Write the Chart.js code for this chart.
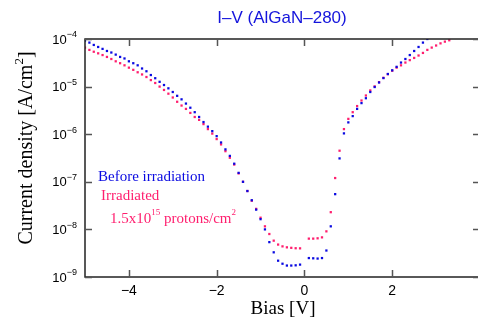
<!DOCTYPE html>
<html>
<head>
<meta charset="utf-8">
<script src="https://cdn.jsdelivr.net/npm/chart.js@4"></script>
<style>
  html, body { margin: 0; padding: 0; background: #fff; overflow: hidden; }
  canvas { display: block; }
</style>
</head>
<body>
<canvas id="myChart" width="484" height="320"></canvas>
<script>
// bias steps (V), 0.1 V apart
var bias = [-5.0,-4.9,-4.8,-4.7,-4.6,-4.5,-4.4,-4.3,-4.2,-4.1,
            -4.0,-3.9,-3.8,-3.7,-3.6,-3.5,-3.4,-3.3,-3.2,-3.1,
            -3.0,-2.9,-2.8,-2.7,-2.6,-2.5,-2.4,-2.3,-2.2,-2.1,
            -2.0,-1.9,-1.8,-1.7,-1.6,-1.5,-1.4,-1.3,-1.2,-1.1,
            -1.0,-0.9,-0.8,-0.7,-0.6,-0.5,-0.4,-0.3,-0.2,-0.1,
             0.0, 0.1, 0.2, 0.3, 0.4, 0.5, 0.6, 0.7, 0.8, 0.9,
             1.0, 1.1, 1.2, 1.3, 1.4, 1.5, 1.6, 1.7, 1.8, 1.9,
             2.0, 2.1, 2.2, 2.3, 2.4, 2.5, 2.6, 2.7, 2.8, 2.9,
             3.0, 3.1, 3.2, 3.3];

// current density (A/cm2), before irradiation
var before = [9.2e-5,8.4e-5,7.5e-5,6.8e-5,6.2e-5,5.6e-5,5.2e-5,4.7e-5,4.2e-5,3.9e-5,
              3.4e-5,3.1e-5,2.8e-5,2.4e-5,2.1e-5,1.75e-5,1.5e-5,1.26e-5,1.08e-5,9.2e-6,
              7.7e-6,6.4e-6,5.4e-6,4.4e-6,3.6e-6,2.9e-6,2.3e-6,1.8e-6,1.44e-6,1.16e-6,
              9.1e-7,6.7e-7,4.8e-7,3.5e-7,2.4e-7,1.54e-7,1.0e-7,6.4e-8,4.1e-8,2.6e-8,
              1.64e-8,1.0e-8,5.4e-9,3.3e-9,2.2e-9,1.9e-9,1.74e-9,1.74e-9,1.76e-9,1.82e-9,
              null,2.5e-9,2.47e-9,2.44e-9,2.5e-9,3.6e-9,1.16e-8,5.5e-8,3.1e-7,1.04e-6,
              1.77e-6,2.4e-6,3.4e-6,4.5e-6,5.7e-6,7.7e-6,9.8e-6,1.22e-5,1.51e-5,1.84e-5,
              2.2e-5,2.6e-5,3.2e-5,3.8e-5,4.6e-5,5.6e-5,6.8e-5,8.4e-5,1.0e-4];

// current density (A/cm2), irradiated 1.5x10^15 protons/cm2
var irradiated = [6.6e-5,5.9e-5,5.4e-5,5.0e-5,4.6e-5,4.2e-5,3.8e-5,3.4e-5,3.1e-5,2.8e-5,
                  2.5e-5,2.25e-5,2.0e-5,1.8e-5,1.59e-5,1.37e-5,1.19e-5,1.0e-5,8.5e-6,7.1e-6,
                  5.9e-6,4.8e-6,4.0e-6,3.4e-6,2.8e-6,2.3e-6,2.0e-6,1.63e-6,1.28e-6,1.03e-6,
                  7.9e-7,6.1e-7,4.4e-7,3.2e-7,2.3e-7,1.5e-7,1.0e-7,6.4e-8,4.0e-8,2.7e-8,
                  1.76e-8,1.16e-8,8.0e-9,5.8e-9,4.8e-9,4.4e-9,4.2e-9,4.1e-9,4.02e-9,4.0e-9,
                  null,6.4e-9,6.4e-9,6.5e-9,6.8e-9,9.1e-9,2.3e-8,1.2e-7,4.5e-7,1.28e-6,
                  2.1e-6,2.9e-6,3.9e-6,5.1e-6,6.5e-6,8.3e-6,1.01e-5,1.24e-5,1.53e-5,1.82e-5,
                  2.15e-5,2.5e-5,2.8e-5,3.2e-5,3.6e-5,4.0e-5,4.5e-5,5.1e-5,5.9e-5,6.6e-5,
                  7.3e-5,8.1e-5,8.8e-5,9.4e-5];

var xTicks = [-4, -2, 0, 2];
var yTicks = [1e-9, 1e-8, 1e-7, 1e-6, 1e-5, 1e-4];
var yExps = ['-9', '-8', '-7', '-6', '-5', '-4'];

var blue = 'rgb(10,10,225)';
var pink = 'rgb(255,30,110)';

function puntos(vals){
    var out = [];
    for(var i=0;i<vals.length;i++){
        out.push({x: bias[i], y: vals[i]});
    }
    return out;
}

// marco, ticks hacia dentro y textos
var marco = {
    id: 'marco',
    afterDraw: function(chart){
        var ctx = chart.ctx;
        var a = chart.chartArea;
        var sx = chart.scales.x;
        var sy = chart.scales.y;
        ctx.save();
        ctx.strokeStyle = '#222';
        ctx.lineWidth = 1.5;
        ctx.strokeRect(a.left, a.top, a.right - a.left, a.bottom - a.top);

        ctx.lineWidth = 1.5;
        ctx.strokeStyle = '#555';
        ctx.beginPath();
        for(var i=0;i<xTicks.length;i++){
            var px = Math.round(sx.getPixelForValue(xTicks[i])) + 0.5;
            ctx.moveTo(px, a.bottom); ctx.lineTo(px, a.bottom - 7);
            ctx.moveTo(px, a.top); ctx.lineTo(px, a.top + 7);
        }
        for(var j=0;j<yTicks.length;j++){
            var py = Math.round(sy.getPixelForValue(yTicks[j])) + 0.5;
            ctx.moveTo(a.left, py); ctx.lineTo(a.left + 7, py);
            ctx.moveTo(a.right, py); ctx.lineTo(a.right - 7, py);
        }
        ctx.stroke();

        // etiquetas eje x
        ctx.fillStyle = '#000';
        ctx.font = '14px "Liberation Sans", Arial, sans-serif';
        ctx.textAlign = 'center';
        ctx.textBaseline = 'middle';
        for(var i=0;i<xTicks.length;i++){
            var t = xTicks[i] < 0 ? '\u2212' + Math.abs(xTicks[i]) : String(xTicks[i]);
            ctx.fillText(t, sx.getPixelForValue(xTicks[i]), a.bottom + 14);
        }

        // etiquetas eje y (10 con exponente)
        for(var j=0;j<yTicks.length;j++){
            var py = sy.getPixelForValue(yTicks[j]);
            ctx.textAlign = 'right';
            ctx.font = '9px "Liberation Sans", Arial, sans-serif';
            var ew = ctx.measureText('\u2212' + yExps[j].slice(1)).width;
            ctx.fillText('\u2212' + yExps[j].slice(1), 77, py - 4);
            ctx.font = '13px "Liberation Sans", Arial, sans-serif';
            ctx.fillText('10', 77 - ew, py + 1);
        }

        // titulo
        ctx.fillStyle = 'rgb(20,20,220)';
        ctx.font = '17px "Liberation Sans", Arial, sans-serif';
        ctx.textAlign = 'center';
        ctx.fillText('I\u2013V (AlGaN\u2013280)', 282, 18);

        // titulos de ejes
        ctx.fillStyle = '#000';
        ctx.font = '19px "Liberation Serif", "Times New Roman", serif';
        ctx.fillText('Bias [V]', 283, 309);
        ctx.save();
        ctx.translate(27, 148);
        ctx.rotate(-Math.PI / 2);
        ctx.textAlign = 'left';
        ctx.font = '20px "Liberation Serif", serif';
        var t1 = 'Current density [A/cm';
        var w1 = ctx.measureText(t1).width;
        ctx.font = '13px "Liberation Serif", serif';
        var w2 = ctx.measureText('2').width;
        ctx.font = '20px "Liberation Serif", serif';
        var w3 = ctx.measureText(']').width;
        var x0 = -(w1 + w2 + w3) / 2;
        ctx.fillText(t1, x0, 0);
        ctx.font = '13px "Liberation Serif", serif';
        ctx.fillText('2', x0 + w1, -7);
        ctx.font = '20px "Liberation Serif", serif';
        ctx.fillText(']', x0 + w1 + w2, 0);
        ctx.restore();

        // leyenda como texto
        ctx.textAlign = 'left';
        ctx.font = '15px "Liberation Serif", serif';
        ctx.fillStyle = blue;
        ctx.fillText('Before irradiation', 98, 177);
        ctx.fillStyle = pink;
        ctx.fillText('Irradiated', 101, 196);
        var lx = 110, ly = 219;
        var partes = [['1.5x10', 15, 0], ['15', 9, -6], [' protons/cm', 15, 0], ['2', 9, -6]];
        for(var k=0;k<partes.length;k++){
            ctx.font = partes[k][1] + 'px "Liberation Serif", serif';
            ctx.fillText(partes[k][0], lx, ly + partes[k][2]);
            lx += ctx.measureText(partes[k][0]).width;
        }
        ctx.restore();
    }
};

var ctx = document.getElementById('myChart').getContext('2d');
var myChart = new Chart(ctx, {
    type: 'scatter',
    data: {
        datasets: [{
            label: 'Before irradiation',
            data: puntos(before),
            backgroundColor: blue,
            borderWidth: 0,
            pointStyle: 'rect',
            pointRadius: 1.6
        }, {
            label: 'Irradiated 1.5x10^15 protons/cm2',
            data: puntos(irradiated),
            backgroundColor: pink,
            borderWidth: 0,
            pointStyle: 'rect',
            pointRadius: 1.6
        }]
    },
    options: {
        responsive: false,
        animation: false,
        layout: { padding: { left: 85, top: 39, right: 4, bottom: 43 } },
        plugins: { legend: { display: false }, tooltip: { enabled: false } },
        scales: {
            x: { type: 'linear', min: -5, max: 4, display: false },
            y: { type: 'logarithmic', min: 1e-9, max: 1e-4, display: false }
        }
    },
    plugins: [marco]
});
</script>
</body>
</html>
